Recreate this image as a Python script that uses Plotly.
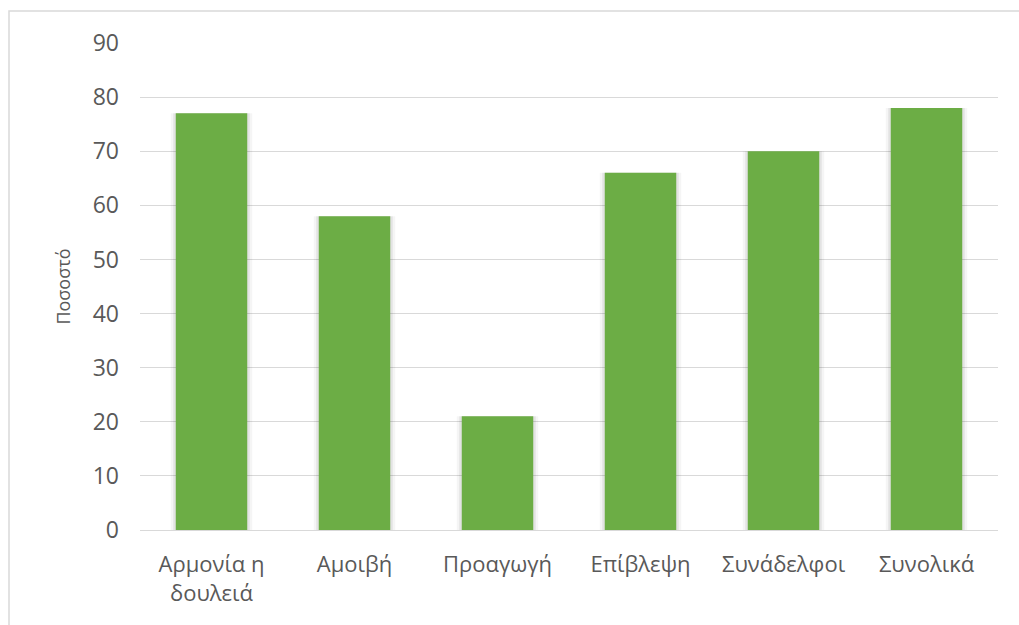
import plotly.graph_objects as go

categories = ["Αρμονία η<br>δουλειά", "Αμοιβή", "Προαγωγή", "Επίβλεψη", "Συνάδελφοι", "Συνολικά"]
values = [77, 58, 21, 66, 70, 78]
y_ticks = [0, 10, 20, 30, 40, 50, 60, 70, 80, 90]

font_family = "Open Sans, Noto Sans, sans-serif"
text_color = "#595959"

fig = go.Figure()
# soft shadow layers
fig.add_trace(go.Bar(x=categories, y=values, width=0.57,
                     marker=dict(color="rgba(0,0,0,0.04)", line=dict(width=0)),
                     hoverinfo="skip", showlegend=False))
fig.add_trace(go.Bar(x=categories, y=values, width=0.535,
                     marker=dict(color="rgba(0,0,0,0.07)", line=dict(width=0)),
                     hoverinfo="skip", showlegend=False))
fig.add_trace(go.Bar(x=categories, y=values, width=0.5,
                     marker=dict(color="#6cad45", line=dict(width=0)),
                     showlegend=False))

fig.update_layout(
    width=1019, height=625,
    margin=dict(l=140, r=21, t=43, b=95),
    paper_bgcolor="white", plot_bgcolor="white",
    barmode="overlay",
    font=dict(family=font_family, color=text_color, size=22),
    xaxis=dict(showgrid=False, showline=False, ticks="", zeroline=False,
               ticklabelstandoff=19,
               tickfont=dict(size=22, color=text_color)),
    yaxis=dict(range=[0, 90], tickvals=y_ticks, showgrid=True,
               gridcolor="#d9d9d9", gridwidth=1, zeroline=True,
               zerolinecolor="#d9d9d9", zerolinewidth=1,
               showline=False, ticks="", ticklen=0,
               ticklabelstandoff=20,
               tickfont=dict(size=23, color=text_color),
               title=dict(text="Ποσοστό", font=dict(size=18, color=text_color), standoff=17)),
    shapes=[dict(type="rect", xref="paper", yref="paper",
                 x0=(9 - 140) / 858, x1=(1040 - 140) / 858,
                 y0=-0.5, y1=1 + (43 - 11) / 487,
                 line=dict(color="#d9d9d9", width=1.5), layer="below")],
)

fig.write_html("out.html")
